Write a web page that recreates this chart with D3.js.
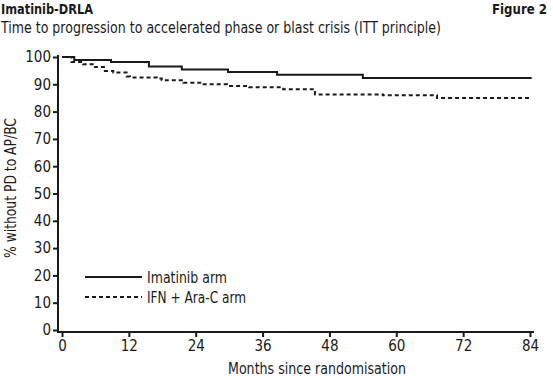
<!DOCTYPE html>
<html>
<head>
  <meta charset="utf-8">
  <title>Imatinib-DRLA Figure 2</title>
  <script src="https://d3js.org/d3.v7.min.js"></script>
  <style>
    body { margin: 0; background: #fff; }
    svg text { font-family: "Liberation Sans Narrow", "DejaVu Sans Condensed", "Roboto", sans-serif; fill: #1a1a1a; }
    .axis path, .axis line { stroke: #1a1a1a; stroke-width: 2px; }
    .axis text { font-size: 15px; }
  </style>
</head>
<body>
  <script>
    // Kaplan-Meier step data (months, % without progression)
    const imatinibMonths = [0, 2.2, 8.8, 15.6, 21.5, 29.8, 38.6, 54.0, 84.3];
    const imatinibValues = [100, 98.9, 98.2, 96.5, 95.4, 94.5, 93.5, 92.3, 92.3];
    const ifnMonths = [0, 1.7, 3.8, 5.9, 7.7, 9.2, 11.6, 12.2, 17.0, 17.9, 21.8, 24.8, 29.6, 33.6, 39.7, 45.4, 57.6, 67.3, 84.0];
    const ifnValues = [100, 98.2, 97.3, 96.3, 94.9, 94.3, 92.9, 92.5, 92.1, 91.5, 90.6, 90.0, 89.4, 88.9, 88.2, 86.3, 86.0, 85.0, 84.8];
    const xTicks = [0, 12, 24, 36, 48, 60, 72, 84];
    const yTicks = [0, 10, 20, 30, 40, 50, 60, 70, 80, 90, 100];
    const legendLabels = ["Imatinib arm", "IFN + Ara-C arm"];

    const width = 553, height = 380;
    const svg = d3.select("body").append("svg")
        .attr("width", width)
        .attr("height", height);

    const x = d3.scaleLinear().domain([0, 84]).range([62, 530]);
    const y = d3.scaleLinear().domain([0, 100]).range([330, 57]);

    // squeeze text to the narrow widths of the original typeface
    function label(sel, txt, len, size, bold) {
      return sel.append("text")
          .style("font-size", size + "px")
          .style("font-weight", bold ? "bold" : null)
          .attr("textLength", len)
          .attr("lengthAdjust", "spacingAndGlyphs")
          .text(txt);
    }

    // titles
    label(svg, "Imatinib-DRLA", 92, 14, true).attr("x", 1).attr("y", 14);
    label(svg, "Figure 2", 55, 14, true).attr("x", 492).attr("y", 14);
    label(svg, "Time to progression to accelerated phase or blast crisis (ITT principle)", 440, 15, false)
        .attr("x", 1).attr("y", 33);

    // axes (offset slightly like the original)
    const xAxis = svg.append("g").attr("class", "axis")
        .attr("transform", "translate(0,332)")
        .call(d3.axisBottom(x).tickValues(xTicks).tickSize(5).tickSizeOuter(0).tickPadding(3));
    xAxis.select(".domain").attr("d", "M57,0H534");

    const yAxis = svg.append("g").attr("class", "axis")
        .attr("transform", "translate(58,0)")
        .call(d3.axisLeft(y).tickValues(yTicks).tickSize(5).tickSizeOuter(0).tickPadding(2));
    yAxis.select(".domain").attr("d", "M0,55V333");

    label(svg, "Months since randomisation", 178, 16, false)
        .attr("x", 228).attr("y", 374);
    label(svg, "% without PD to AP/BC", 140, 16, false)
        .attr("transform", `translate(16,258) rotate(-90)`);

    // curves
    const step = d3.line().x(d => x(d[0])).y(d => y(d[1])).curve(d3.curveStepAfter);
    svg.append("path")
        .datum(d3.zip(imatinibMonths, imatinibValues))
        .attr("d", step)
        .attr("fill", "none").attr("stroke", "#1a1a1a").attr("stroke-width", 2);
    svg.append("path")
        .datum(d3.zip(ifnMonths, ifnValues))
        .attr("d", step)
        .attr("fill", "none").attr("stroke", "#1a1a1a").attr("stroke-width", 2)
        .attr("stroke-dasharray", "4,3");

    // legend
    const legendWidths = [80, 99];
    const legend = svg.append("g");
    legendLabels.forEach((lab, i) => {
      const ly = 277 + i * 20;
      legend.append("line")
          .attr("x1", 85).attr("x2", 142).attr("y1", ly).attr("y2", ly)
          .attr("stroke", "#1a1a1a").attr("stroke-width", i === 0 ? 2 : 1.8)
          .attr("stroke-dasharray", i === 0 ? null : "4,3");
      label(legend, lab, legendWidths[i], 16, false).attr("x", 147).attr("y", ly + 6);
    });
  </script>
</body>
</html>
